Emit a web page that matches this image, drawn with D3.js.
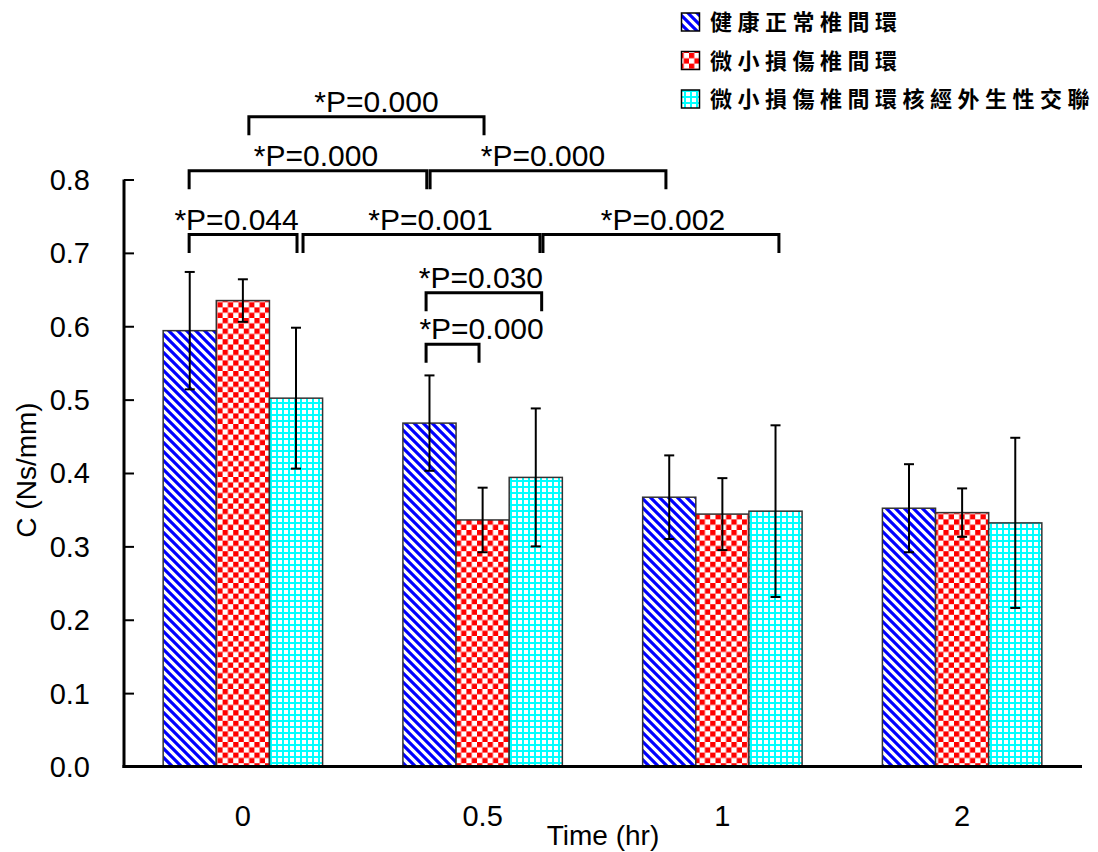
<!DOCTYPE html>
<html>
<head>
<meta charset="utf-8">
<script src="https://cdn.jsdelivr.net/npm/d3@7"></script>
<style>
  body { margin: 0; background: #ffffff; }
  svg { display: block; }
</style>
</head>
<body>
<script>
// ---------------- DATA ----------------
const categories = ["0", "0.5", "1", "2"];
const seriesNames = ["健康正常椎間環", "微小損傷椎間環", "微小損傷椎間環核經外生性交聯"];
const healthy = [0.594, 0.468, 0.367, 0.352];
const healthySD = [0.080, 0.065, 0.057, 0.060];
const injured = [0.635, 0.336, 0.344, 0.346];
const injuredSD = [0.029, 0.044, 0.049, 0.033];
const crosslinked = [0.502, 0.394, 0.348, 0.332];
const crosslinkedSD = [0.096, 0.094, 0.117, 0.116];
const yTicks = [0, 0.1, 0.2, 0.3, 0.4, 0.5, 0.6, 0.7, 0.8];
const xTitle = "Time (hr)";
const yTitle = "C (Ns/mm)";

// significance brackets: [groupIndex, seriesIndex]
const bracketFrom = [[0, 1], [0, 0], [1, 0], [0, 0], [0, 2], [1, 2], [1, 0], [1, 0]];
const bracketTo   = [[1, 1], [1, 0], [2, 0], [0, 2], [1, 2], [2, 2], [1, 2], [1, 1]];
const bracketLevel = [0.8856, 0.812, 0.812, 0.725, 0.725, 0.725, 0.6457, 0.5754];
const bracketLabel = ["*P=0.000", "*P=0.000", "*P=0.000", "*P=0.044", "*P=0.001", "*P=0.002", "*P=0.030", "*P=0.000"];

// ---------------- STYLE (pixel nudges, not data) ----------------
const bracketEndNudge = [[6, 1.4], [-0.6, -2.7], [0.6, -3.3], [-0.6, 1], [7, 4.2], [7.2, 3.4], [-3.4, 5.9], [-3.4, -3.6]];
const bracketLabelDx = [10, 8, -5, -6.5, 9, 2, -3, 29];

const W = 1098, H = 852;
const latin = "'Liberation Sans', Arial, Helvetica, sans-serif";
const cjk = "'Noto Sans CJK TC', 'Noto Sans CJK SC', sans-serif";

const svg = d3.select("body").append("svg").attr("width", W).attr("height", H);
const defs = svg.append("defs");

// patterns
const pBlue = defs.append("pattern").attr("id", "pBlue").attr("patternUnits", "userSpaceOnUse")
  .attr("width", 9).attr("height", 9);
pBlue.append("rect").attr("width", 9).attr("height", 9).attr("fill", "#fff");
pBlue.append("path").attr("d", "M-1,-1 L10,10 M-2,7 L2,11 M7,-2 L11,2")
  .attr("stroke", "#0000ff").attr("stroke-width", 3.2);

const cs = 5.3;
const pRed = defs.append("pattern").attr("id", "pRed").attr("patternUnits", "userSpaceOnUse")
  .attr("width", cs * 2).attr("height", cs * 2);
pRed.append("rect").attr("width", cs * 2).attr("height", cs * 2).attr("fill", "#fff");
pRed.append("rect").attr("width", cs).attr("height", cs).attr("fill", "#ff0000");
pRed.append("rect").attr("x", cs).attr("y", cs).attr("width", cs).attr("height", cs).attr("fill", "#ff0000");

const gp = 6;
const pCyan = defs.append("pattern").attr("id", "pCyan").attr("patternUnits", "userSpaceOnUse")
  .attr("width", gp).attr("height", gp);
pCyan.append("rect").attr("width", gp).attr("height", gp).attr("fill", "#fff");
pCyan.append("rect").attr("width", gp).attr("height", 2).attr("fill", "#00ffff");
pCyan.append("rect").attr("width", 2).attr("height", gp).attr("fill", "#00ffff");

const fills = ["url(#pBlue)", "url(#pRed)", "url(#pCyan)"];

// scales
const x0 = d3.scaleBand().domain(categories).range([123, 1082]).paddingInner(0).paddingOuter(0);
const bw = x0.bandwidth();
const groupW = bw * 0.665;
const x1 = d3.scaleBand().domain([0, 1, 2]).range([(bw - groupW) / 2, (bw + groupW) / 2]);
const y = d3.scaleLinear().domain([0, 0.8]).range([766.5, 179.5]);

const means = [healthy, injured, crosslinked];
const sds = [healthySD, injuredSD, crosslinkedSD];

const barCenter = (g, s) => x0(categories[g]) + x1(s) + x1.bandwidth() / 2;

// bars
const barData = [];
categories.forEach((c, g) => {
  [0, 1, 2].forEach(s => barData.push({ g, s, c, v: means[s][g], sd: sds[s][g] }));
});

const gBars = svg.append("g");
gBars.selectAll("rect").data(barData).join("rect")
  .attr("x", d => x0(d.c) + x1(d.s))
  .attr("y", d => y(d.v))
  .attr("width", x1.bandwidth())
  .attr("height", d => y(0) - y(d.v))
  .attr("fill", d => fills[d.s])
  .attr("stroke", "#333")
  .attr("stroke-width", 1.5);

// error bars
const gErr = svg.append("g").attr("stroke", "#000").attr("stroke-width", 2);
barData.forEach(d => {
  const cx = barCenter(d.g, d.s);
  gErr.append("line").attr("x1", cx).attr("x2", cx).attr("y1", y(d.v + d.sd)).attr("y2", y(d.v - d.sd));
  gErr.append("line").attr("x1", cx - 5).attr("x2", cx + 5).attr("y1", y(d.v + d.sd)).attr("y2", y(d.v + d.sd));
  gErr.append("line").attr("x1", cx - 5).attr("x2", cx + 5).attr("y1", y(d.v - d.sd)).attr("y2", y(d.v - d.sd));
});

// y axis
const yAxis = d3.axisRight(y).tickValues(yTicks).tickSize(10).tickFormat("");
const gy = svg.append("g").attr("transform", "translate(124,0)").call(yAxis);
gy.select(".domain").attr("stroke", "#000").attr("stroke-width", 3).attr("d", `M0,${y(0.8)}V${y(0) + 1.5}`);
gy.selectAll(".tick line").attr("stroke", "#000").attr("stroke-width", 2);
svg.append("g").selectAll("text").data(yTicks).join("text")
  .attr("x", 90).attr("y", d => y(d)).attr("dy", "0.36em")
  .attr("text-anchor", "end")
  .attr("font-family", latin).attr("font-size", 29).attr("fill", "#000")
  .text(d => d3.format(".1f")(d));

// x axis
const xAxis = d3.axisBottom(x0).tickSize(0).tickFormat("");
const gx = svg.append("g").attr("transform", `translate(0,${y(0)})`).call(xAxis);
gx.select(".domain").attr("stroke", "#000").attr("stroke-width", 3).attr("d", `M122.5,0H1082`);
svg.append("g").selectAll("text").data(categories).join("text")
  .attr("x", d => x0(d) + bw / 2).attr("y", 826)
  .attr("text-anchor", "middle")
  .attr("font-family", latin).attr("font-size", 29).attr("fill", "#000")
  .text(d => d);

// axis titles
svg.append("text").attr("x", 603).attr("y", 845).attr("text-anchor", "middle")
  .attr("font-family", latin).attr("font-size", 28).attr("fill", "#000").text(xTitle);
svg.append("text").attr("transform", "translate(36,470) rotate(-90)").attr("text-anchor", "middle")
  .attr("font-family", latin).attr("font-size", 28).attr("fill", "#000").text(yTitle);

// brackets
const gBr = svg.append("g");
bracketLabel.forEach((lab, i) => {
  const [ga, sa] = bracketFrom[i];
  const [gb, sb] = bracketTo[i];
  const xa = barCenter(ga, sa) + bracketEndNudge[i][0];
  const xb = barCenter(gb, sb) + bracketEndNudge[i][1];
  const yy = y(bracketLevel[i]);
  gBr.append("path")
    .attr("d", `M${xa},${yy + 18.5}V${yy}H${xb}V${yy + 18.5}`)
    .attr("fill", "none").attr("stroke", "#000").attr("stroke-width", 3);
  gBr.append("text")
    .attr("x", (xa + xb) / 2 + bracketLabelDx[i]).attr("y", yy - 5)
    .attr("text-anchor", "middle")
    .attr("font-family", latin).attr("font-size", 30).attr("fill", "#000")
    .text(lab);
});

// legend
const legendY = [22.5, 61, 99.5];
const gLeg = svg.append("g");
seriesNames.forEach((name, i) => {
  gLeg.append("rect").attr("x", 681.5).attr("y", legendY[i] - 9.5).attr("width", 18).attr("height", 18)
    .attr("fill", fills[i]).attr("stroke", "#000").attr("stroke-width", 1.5);
  gLeg.append("text").attr("x", 710).attr("y", legendY[i]).attr("dy", "0.36em")
    .attr("font-family", cjk).attr("font-size", 22).attr("font-weight", 700)
    .attr("letter-spacing", 5.5).attr("fill", "#000")
    .text(name);
});
</script>
</body>
</html>
